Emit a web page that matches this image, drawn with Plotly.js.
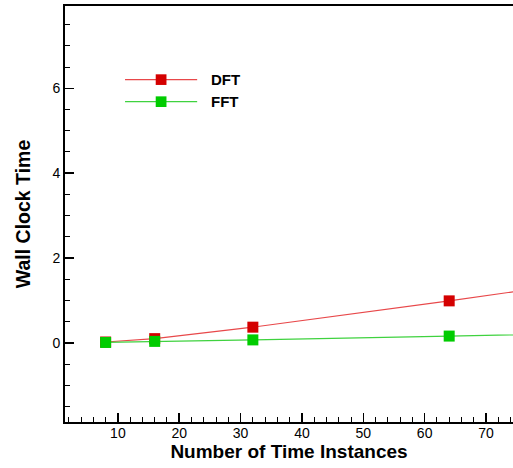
<!DOCTYPE html>
<html>
<head>
<meta charset="utf-8">
<script src="https://cdn.plot.ly/plotly-3.0.1.min.js"></script>
<style>html,body{margin:0;padding:0;background:#fff;}</style>
</head>
<body>
<div id="chart" style="width:513px;height:468px;"></div>
<script>
// Data
const seriesNames = ["DFT", "FFT"];
const instances = [8, 16, 32, 64, 128];
const dftTime = [0.02, 0.10, 0.37, 0.99, 2.3];
const fftTime = [0.01, 0.035, 0.07, 0.16, 0.33];
const xTitle = "Number of Time Instances";
const yTitle = "Wall Clock Time";

const font = "Liberation Sans, Arial, Helvetica, sans-serif";
const dftLine = "#e8484a", dftMarker = "#d40000";
const fftLine = "#3fd23f", fftMarker = "#00cc00";

const traces = [
  {x: instances, y: dftTime, name: seriesNames[0], mode: "lines+markers", type: "scatter",
   line: {color: dftLine, width: 1.2},
   marker: {symbol: "square", size: 11, color: dftMarker, line: {width: 0}}, cliponaxis: true},
  {x: instances, y: fftTime, name: seriesNames[1], mode: "lines+markers", type: "scatter",
   line: {color: fftLine, width: 1.2},
   marker: {symbol: "square", size: 11, color: fftMarker, line: {width: 0}}, cliponaxis: true}
];

// custom legend (paper coordinates)
const legY = [0.823, 0.770];
const legColors = [[dftLine, dftMarker], [fftLine, fftMarker]];
const shapes = [];
const annotations = [];
seriesNames.forEach((n, i) => {
  const y = legY[i];
  shapes.push({type: "line", xref: "paper", yref: "paper", x0: 0.134, x1: 0.295, y0: y, y1: y,
               line: {color: legColors[i][0], width: 1.2}});
  shapes.push({type: "rect", xref: "paper", yref: "paper", x0: 0.2025, x1: 0.2265,
               y0: y - 0.0128, y1: y + 0.0128, fillcolor: legColors[i][1], line: {width: 0}});
  annotations.push({xref: "paper", yref: "paper", x: 0.322, y: y, xanchor: "left", yanchor: "middle",
                    text: "<b>" + n + "</b>", showarrow: false, font: {family: font, size: 15, color: "#000"}});
});

const layout = {
  width: 513, height: 468,
  margin: {l: 65, r: 0, t: 6, b: 46, pad: 0},
  paper_bgcolor: "#fff", plot_bgcolor: "#fff",
  showlegend: false,
  font: {family: font, size: 14, color: "#000"},
  xaxis: {
    range: [1.38, 74.4], tick0: 0, dtick: 10, showgrid: false, zeroline: false,
    showline: true, linecolor: "#000", linewidth: 2, mirror: true,
    ticks: "inside", ticklen: 9, tickwidth: 1.5, tickcolor: "#000",
    minor: {ticks: "inside", ticklen: 5, dtick: 2, tickcolor: "#000", tickwidth: 1},
    tickfont: {family: font, size: 14, color: "#000"},
    ticklabelstandoff: -3,
    title: {text: "<b>" + xTitle + "</b>", font: {family: font, size: 19, color: "#000"}, standoff: 0}
  },
  yaxis: {
    range: [-1.865, 7.94], tick0: 0, dtick: 2, showgrid: false, zeroline: false,
    showline: true, linecolor: "#000", linewidth: 2, mirror: false,
    ticks: "inside", ticklen: 9, tickwidth: 1.5, tickcolor: "#000",
    minor: {ticks: "inside", ticklen: 5, dtick: 0.5, tickcolor: "#000", tickwidth: 1},
    tickfont: {family: font, size: 14, color: "#000"},
    title: {text: "<b>" + yTitle + "</b>", font: {family: font, size: 19.5, color: "#000"}, standoff: 17}
  },
  shapes: shapes,
  annotations: annotations
};

Plotly.newPlot("chart", traces, layout, {displayModeBar: false, staticPlot: true});
</script>
</body>
</html>
